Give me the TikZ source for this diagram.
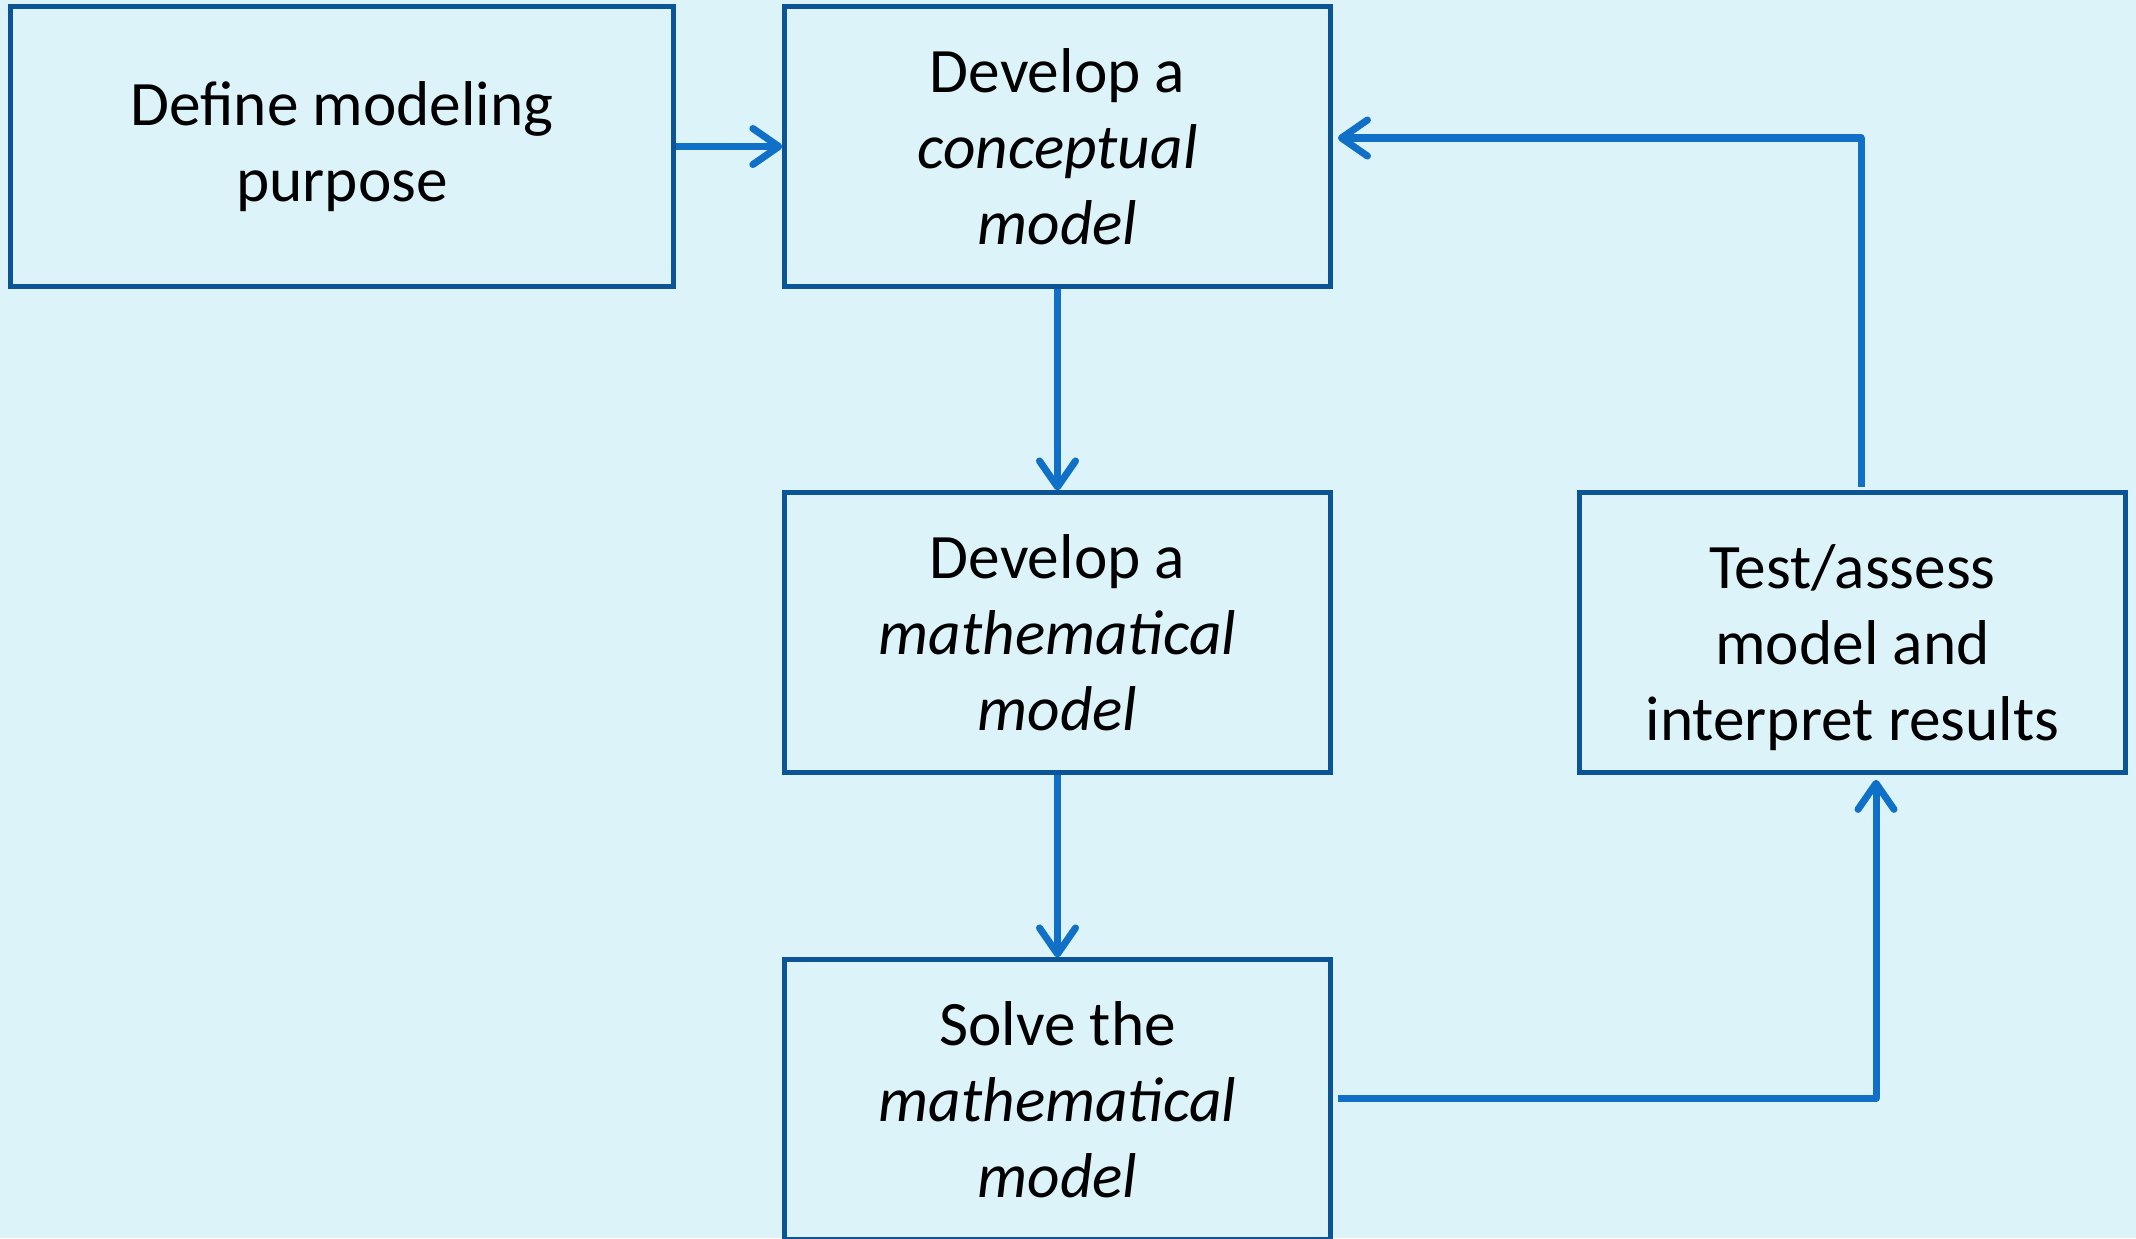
\documentclass[tikz,border=0pt]{standalone}
\usepackage{fontspec}
\setmainfont{Carlito}
\usetikzlibrary{arrows.meta}
\usetikzlibrary{positioning}

\definecolor{bgcol}{HTML}{DCF4F9}
\definecolor{boxcol}{HTML}{0B5496}
\definecolor{arrcol}{HTML}{1070C8}

\tikzset{
  stepbox/.style={rectangle,draw=boxcol,line width=1.4pt,minimum height=2.79cm,align=center,font=\fontsize{18}{21.6}\selectfont},
  flow/.style={draw=arrcol,line width=2pt,-{Straight Barb[length=0.26cm,width=0.36cm,round]}}
}

\begin{document}
\begin{tikzpicture}[x=0.01cm,y=-0.01cm]
\fill[bgcol] (0,0) rectangle (2136,1238);
\useasboundingbox (0,0) rectangle (2136,1238);

\node[stepbox,minimum width=6.62cm] (purpose) at (342,146.5) {Define modeling\\purpose};
\node[stepbox,minimum width=5.45cm] (concept) at (1057.5,146.5) {Develop a\\\textit{conceptual}\\\textit{model}};
\node[stepbox,minimum width=5.45cm] (math) at (1057.5,632.5) {Develop a\\\textit{mathematical}\\\textit{model}};
\node[stepbox,minimum width=5.45cm] (solve) at (1057.5,1099.5) {Solve the\\\textit{mathematical}\\\textit{model}};
\node[stepbox,minimum width=5.45cm] (test) at (1852.5,632.5) {\rule{0pt}{0.75cm}Test/assess\\model and\\interpret results};

\coordinate (up) at (1876,1098);
\coordinate (back) at (1861,138);

\draw[flow] (purpose.east) -- (concept.west);
\draw[flow] (concept.south) -- (math.north);
\draw[flow] (math.south) -- (solve.north);
\draw[flow,shorten <=1.5pt,shorten >=1.5pt,line join=round] (solve.east |- up) -- (up) -- (up |- test.south);
\draw[flow,shorten <=1pt,shorten >=1.5pt,line join=round] (back |- test.north) -- (back) -- (back -| concept.east);

\end{tikzpicture}
\end{document}
